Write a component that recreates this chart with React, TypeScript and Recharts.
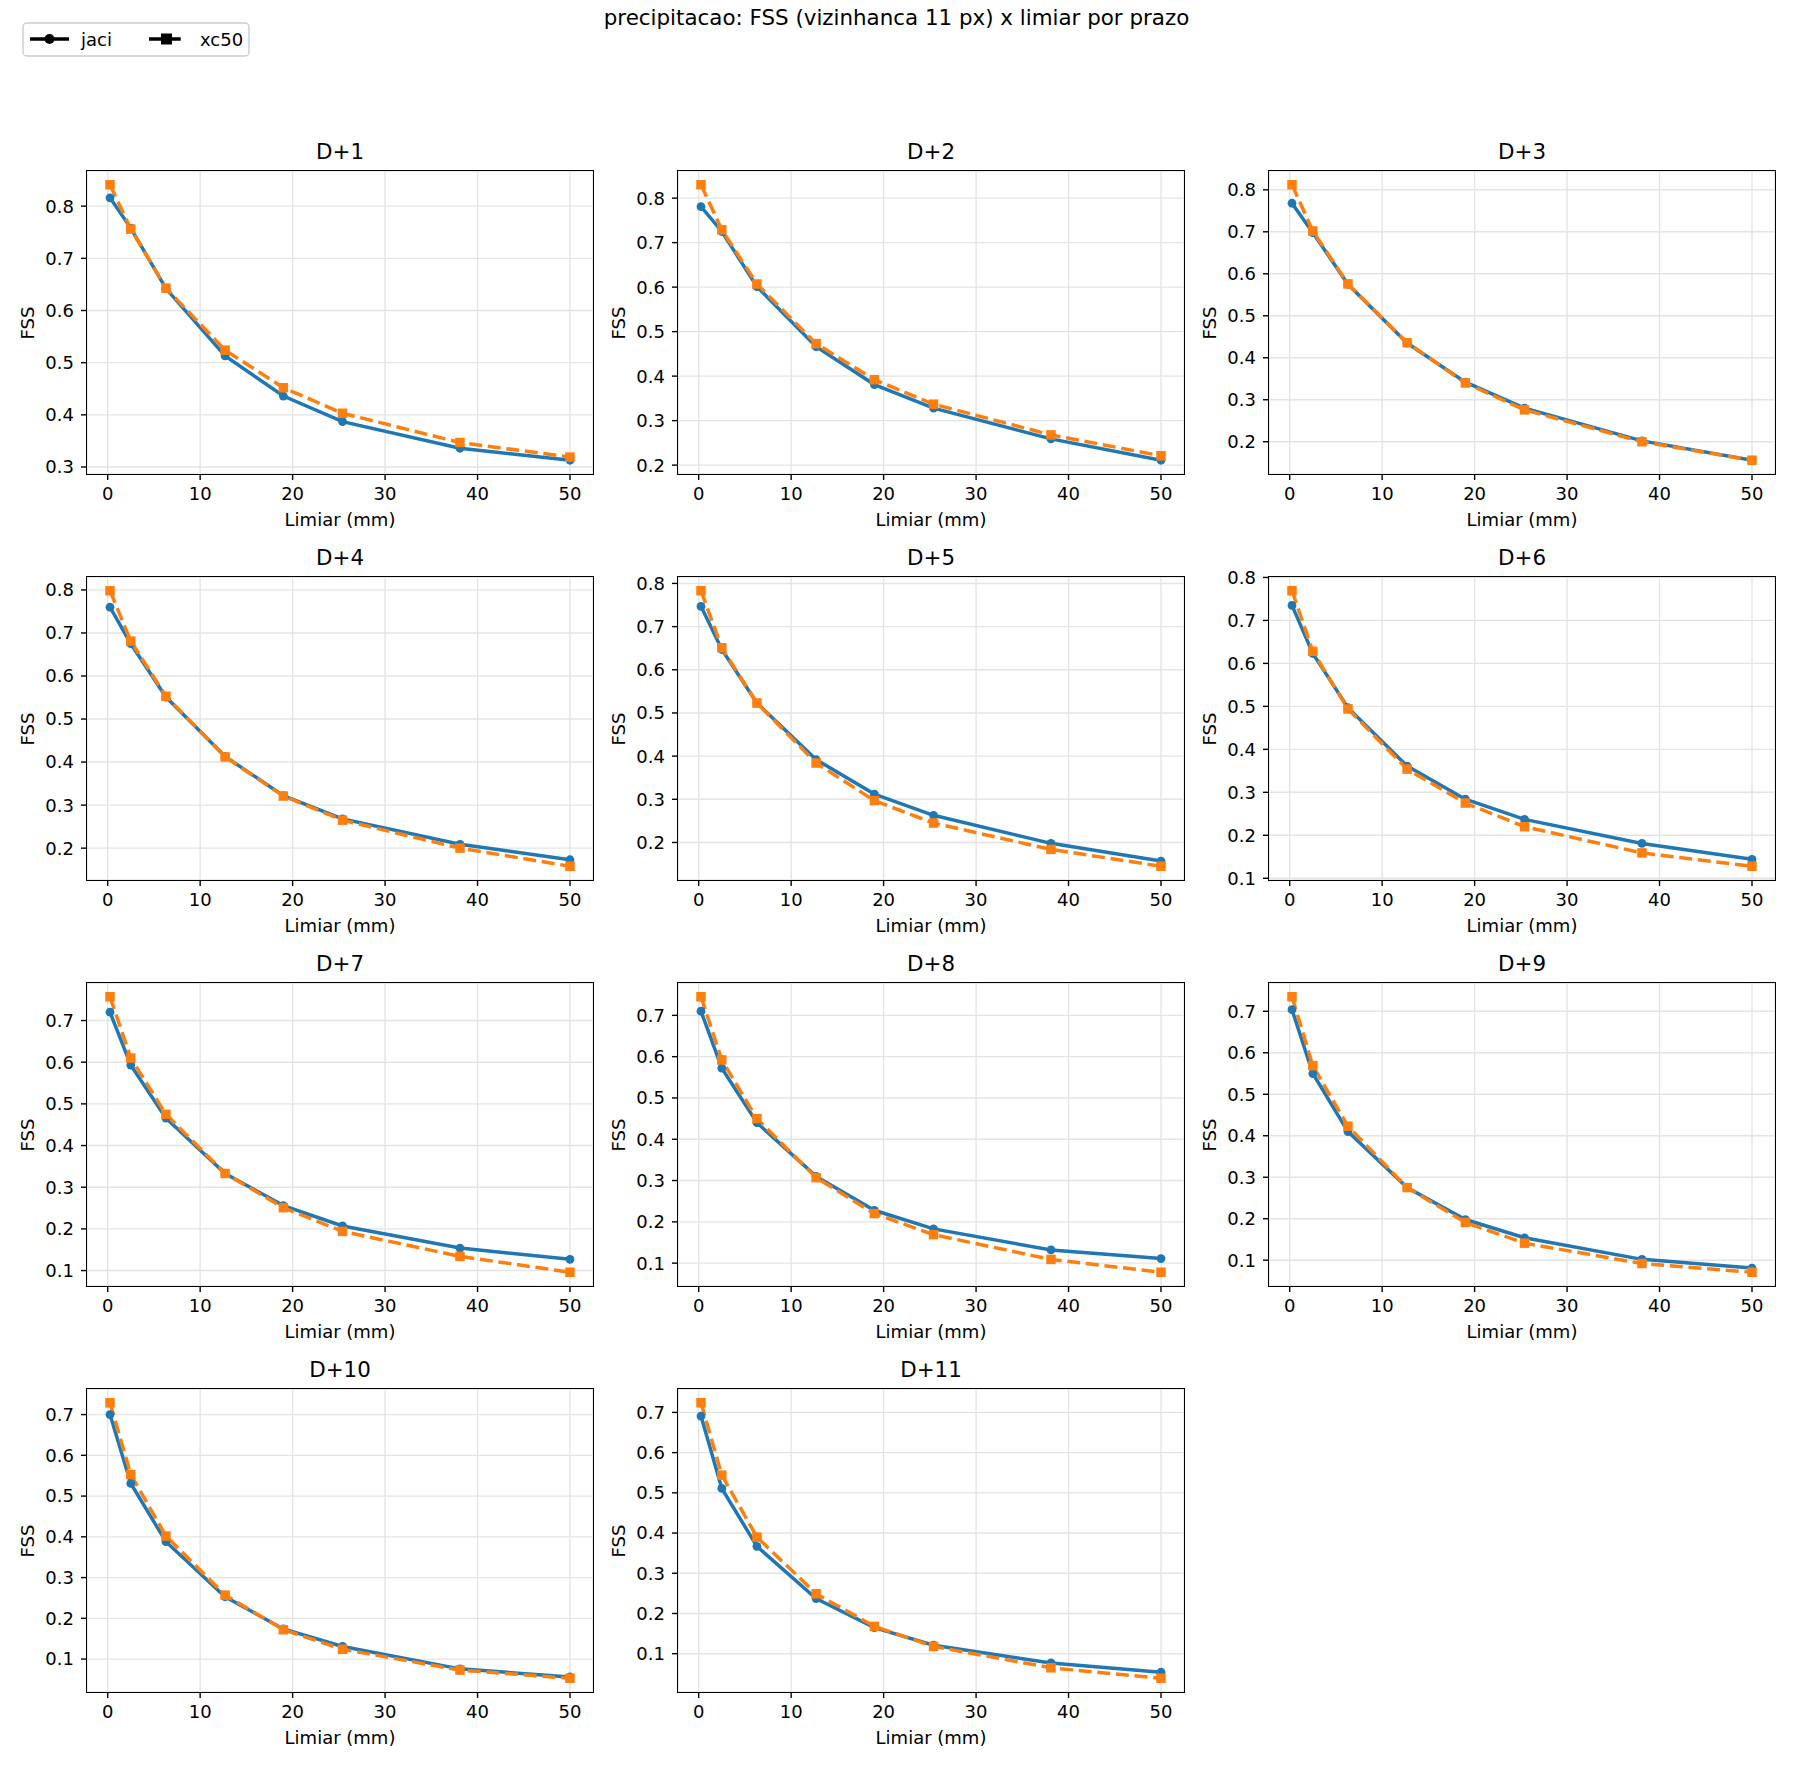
import React from 'react';
import { LineChart, Line, XAxis, YAxis, CartesianGrid } from 'recharts';

// limiares de precipitacao (mm) e prazos
const limiares = [0.25, 2.5, 6.3, 12.7, 19, 25.4, 38.1, 50];
const prazos = ['D+1', 'D+2', 'D+3', 'D+4', 'D+5', 'D+6', 'D+7', 'D+8', 'D+9', 'D+10', 'D+11'];
const xTicks = [0, 10, 20, 30, 40, 50];

// FSS jaci
const jaciD1 = [0.816, 0.758, 0.642, 0.513, 0.436, 0.387, 0.336, 0.313];
const jaciD2 = [0.781, 0.725, 0.601, 0.466, 0.381, 0.328, 0.259, 0.211];
const jaciD3 = [0.768, 0.698, 0.575, 0.435, 0.342, 0.28, 0.202, 0.156];
const jaciD4 = [0.76, 0.675, 0.551, 0.413, 0.322, 0.268, 0.209, 0.173];
const jaciD5 = [0.747, 0.647, 0.523, 0.392, 0.312, 0.263, 0.198, 0.157];
const jaciD6 = [0.735, 0.623, 0.497, 0.361, 0.284, 0.237, 0.181, 0.144];
const jaciD7 = [0.72, 0.593, 0.466, 0.333, 0.256, 0.207, 0.154, 0.127];
const jaciD8 = [0.71, 0.572, 0.44, 0.31, 0.228, 0.183, 0.132, 0.111];
const jaciD9 = [0.704, 0.55, 0.41, 0.275, 0.198, 0.154, 0.102, 0.081];
const jaciD10 = [0.7, 0.531, 0.388, 0.253, 0.174, 0.131, 0.076, 0.056];
const jaciD11 = [0.691, 0.511, 0.367, 0.237, 0.165, 0.121, 0.077, 0.054];

// FSS xc50
const xc50D1 = [0.841, 0.756, 0.643, 0.524, 0.452, 0.403, 0.347, 0.319];
const xc50D2 = [0.83, 0.729, 0.607, 0.473, 0.392, 0.337, 0.268, 0.221];
const xc50D3 = [0.812, 0.702, 0.576, 0.436, 0.34, 0.276, 0.2, 0.156];
const xc50D4 = [0.798, 0.681, 0.553, 0.412, 0.321, 0.265, 0.2, 0.158];
const xc50D5 = [0.783, 0.651, 0.523, 0.384, 0.297, 0.245, 0.184, 0.145];
const xc50D6 = [0.769, 0.628, 0.494, 0.354, 0.275, 0.22, 0.159, 0.128];
const xc50D7 = [0.757, 0.61, 0.475, 0.333, 0.251, 0.194, 0.134, 0.096];
const xc50D8 = [0.745, 0.592, 0.45, 0.307, 0.22, 0.169, 0.109, 0.078];
const xc50D9 = [0.735, 0.569, 0.423, 0.275, 0.191, 0.141, 0.092, 0.071];
const xc50D10 = [0.729, 0.553, 0.402, 0.257, 0.172, 0.124, 0.073, 0.053];
const xc50D11 = [0.724, 0.544, 0.39, 0.249, 0.168, 0.118, 0.065, 0.039];

const jaciPorPrazo = [jaciD1, jaciD2, jaciD3, jaciD4, jaciD5, jaciD6, jaciD7, jaciD8, jaciD9, jaciD10, jaciD11];
const xc50PorPrazo = [xc50D1, xc50D2, xc50D3, xc50D4, xc50D5, xc50D6, xc50D7, xc50D8, xc50D9, xc50D10, xc50D11];

const FONT = "'DejaVu Sans', sans-serif";
const AZUL = '#1f77b4';
const LARANJA = '#ff7f0e';
const AX_W = 506;
const AX_H = 303;
const COL_X = [87, 678, 1269];
const ROW_Y = [171, 577, 983, 1389];
const Y_AXIS_W = 60;
const X_AXIS_H = 40;
const PAD_TOP = 14;
const PAD_RIGHT = 12;

function padDomain(lo: number, hi: number): [number, number] {
  const m = (hi - lo) * 0.05;
  return [lo - m, hi + m];
}

function ticksDecimais(lo: number, hi: number) {
  const out: number[] = [];
  for (let k = Math.ceil(lo * 10 - 1e-9); k <= Math.floor(hi * 10 + 1e-9); k++) out.push(k / 10);
  return out;
}

const SquareDot = (props: any) => {
  const { cx, cy, index } = props;
  if (cx == null || cy == null) return null;
  return <rect key={`sq-${index}`} x={cx - 4.75} y={cy - 4.75} width={9.5} height={9.5} fill={LARANJA} />;
};

const tickStyle = { fontSize: 18, fill: '#000', fontFamily: FONT };

function Painel({ idx }: { idx: number }) {
  const left = COL_X[idx % 3];
  const top = ROW_Y[Math.floor(idx / 3)];
  const jaci = jaciPorPrazo[idx];
  const xc50 = xc50PorPrazo[idx];
  const data = limiares.map((x, i) => ({ x, jaci: jaci[i], xc50: xc50[i] }));
  const xDom = padDomain(Math.min(...limiares), Math.max(...limiares));
  const todos = [...jaci, ...xc50];
  const yDom = padDomain(Math.min(...todos), Math.max(...todos));
  const yTicks = ticksDecimais(yDom[0], yDom[1]);

  return (
    <>
      <div style={{ position: 'absolute', left, top: top - 31, width: AX_W, textAlign: 'center', fontSize: 21.4, lineHeight: '24px' }}>
        {prazos[idx]}
      </div>
      <div style={{ position: 'absolute', left: left - Y_AXIS_W, top: top - PAD_TOP }}>
        <LineChart
          width={AX_W + Y_AXIS_W + PAD_RIGHT}
          height={AX_H + PAD_TOP + X_AXIS_H}
          data={data}
          margin={{ top: PAD_TOP, right: PAD_RIGHT, bottom: 0, left: 0 }}
        >
          <CartesianGrid stroke="#e4e4e4" strokeWidth={1.4} />
          <XAxis
            dataKey="x"
            type="number"
            domain={xDom}
            ticks={xTicks}
            interval={0}
            height={X_AXIS_H}
            axisLine={false}
            tickLine={{ stroke: '#000', strokeWidth: 1.4 }}
            tickSize={6}
            tickMargin={7}
            tick={tickStyle}
          />
          <YAxis
            type="number"
            domain={yDom}
            ticks={yTicks}
            interval={0}
            width={Y_AXIS_W}
            axisLine={false}
            tickLine={{ stroke: '#000', strokeWidth: 1.4 }}
            tickSize={6}
            tickMargin={7}
            tick={tickStyle}
            tickFormatter={(v: number) => v.toFixed(1)}
          />
          <Line
            type="linear"
            dataKey="jaci"
            stroke={AZUL}
            strokeWidth={3.5}
            dot={{ r: 4.4, fill: AZUL, stroke: AZUL, strokeWidth: 0 }}
            activeDot={false}
            isAnimationActive={false}
          />
          <Line
            type="linear"
            dataKey="xc50"
            stroke={LARANJA}
            strokeWidth={3.5}
            strokeDasharray="13 5.7"
            dot={SquareDot}
            activeDot={false}
            isAnimationActive={false}
          />
        </LineChart>
      </div>
      <div
        style={{
          position: 'absolute',
          left: left - 0.7,
          top: top - 0.7,
          width: AX_W + 1.4,
          height: AX_H + 1.4,
          border: '1.4px solid #000',
          boxSizing: 'border-box',
          pointerEvents: 'none',
        }}
      />
      <div
        style={{
          position: 'absolute',
          left: left - 59 - 30,
          top: top + AX_H / 2 - 10,
          width: 60,
          height: 20,
          lineHeight: '20px',
          textAlign: 'center',
          fontSize: 18,
          transform: 'rotate(-90deg)',
        }}
      >
        FSS
      </div>
      <div style={{ position: 'absolute', left, top: top + AX_H + 36, width: AX_W, textAlign: 'center', fontSize: 18, lineHeight: '20px' }}>
        Limiar (mm)
      </div>
    </>
  );
}

function Legenda() {
  return (
    <svg style={{ position: 'absolute', left: 22, top: 22 }} width={230} height={36}>
      <rect x={1} y={1} width={226} height={33} rx={4} fill="#fff" stroke="#cccccc" strokeWidth={1.4} />
      <line x1={8} y1={17} x2={47} y2={17} stroke="#000" strokeWidth={3.5} />
      <circle cx={27.5} cy={17} r={5} fill="#000" />
      <text x={59} y={23.5} fontSize={18} fontFamily={FONT} fill="#000">jaci</text>
      <line x1={127} y1={17} x2={163} y2={17} stroke="#000" strokeWidth={3.5} strokeDasharray="13 5.7" />
      <rect x={139} y={11.5} width={11} height={11} fill="#000" />
      <text x={178} y={23.5} fontSize={18} fontFamily={FONT} fill="#000">xc50</text>
    </svg>
  );
}

export default function App() {
  return (
    <div
      style={{
        position: 'absolute',
        left: 0,
        top: 0,
        width: 1793,
        height: 1768,
        background: '#fff',
        fontFamily: FONT,
        color: '#000',
      }}
    >
      <div style={{ position: 'absolute', left: 0, top: 5, width: 1793, textAlign: 'center', fontSize: 21.4, lineHeight: '26px' }}>
        precipitacao: FSS (vizinhanca 11 px) x limiar por prazo
      </div>
      <Legenda />
      {prazos.map((p, i) => (
        <Painel key={p} idx={i} />
      ))}
    </div>
  );
}
